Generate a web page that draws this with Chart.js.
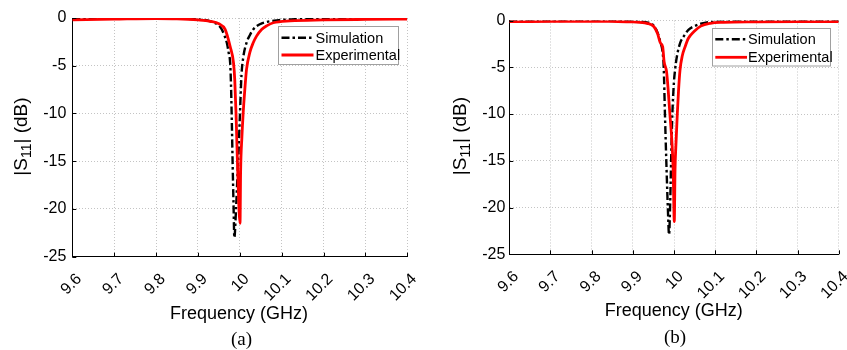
<!DOCTYPE html>
<html><head><meta charset="utf-8">
<script src="https://cdn.jsdelivr.net/npm/chart.js@4.4.1/dist/chart.umd.min.js"></script>
<style>
html,body{margin:0;padding:0;background:#fff;}
#wrap{position:relative;width:847px;height:350px;overflow:hidden;background:#fff;}
.c{position:absolute;top:0;height:350px;}
canvas{display:block;}
</style></head><body>
<div id="wrap">
<div class="c" style="left:0;width:423px"><canvas id="ca" width="423" height="350" style="width:423px;height:350px"></canvas></div>
<div class="c" style="left:423px;width:424px"><canvas id="cb" width="424" height="350" style="width:424px;height:350px"></canvas></div>
</div>
<script>
// ---------- data ----------
const xTickValues = [9.6, 9.7, 9.8, 9.9, 10.0, 10.1, 10.2, 10.3, 10.4];
const xTickLabels = ['9.6', '9.7', '9.8', '9.9', '10', '10.1', '10.2', '10.3', '10.4'];
const yTickValues = [-25, -20, -15, -10, -5, 0];
const yTickLabels = ['-25', '-20', '-15', '-10', '-5', '0'];
const seriesNames = ['Simulation', 'Experimental'];
const panelLabels = ['(a)', '(b)'];
const xAxisTitle = 'Frequency (GHz)';

// panel (a)
const simFreqA = [9.6, 9.7, 9.8, 9.85, 9.9, 9.93, 9.95, 9.957, 9.963, 9.969, 9.974, 9.977, 9.979, 9.981, 9.983, 9.985, 9.987, 9.991, 9.994, 9.997, 10.0, 10.004, 10.008, 10.016, 10.024, 10.032, 10.048, 10.065, 10.088, 10.15, 10.25, 10.4];
const simA = [-0.05, -0.03, -0.02, -0.05, -0.15, -0.35, -0.8, -1.2, -1.8, -2.6, -3.8, -4.7, -7.0, -11.0, -15.5, -19.5, -23.0, -20.0, -17.0, -14.0, -10.5, -6.0, -4.2, -2.6, -1.8, -1.2, -0.65, -0.4, -0.25, -0.1, -0.06, -0.04];
const expFreqA = [9.6, 9.7, 9.8, 9.85, 9.9, 9.93, 9.95, 9.965, 9.977, 9.985, 9.988, 9.991, 9.995, 10.0005, 10.002, 10.005, 10.008, 10.012, 10.016, 10.024, 10.032, 10.04, 10.052, 10.065, 10.08, 10.12, 10.2, 10.3, 10.4];
const expA = [-0.2, -0.12, -0.05, -0.08, -0.2, -0.35, -0.6, -1.2, -3.0, -4.7, -6.5, -10.0, -16.0, -21.5, -16.0, -12.5, -10.0, -7.5, -5.4, -3.6, -2.6, -1.9, -1.2, -0.8, -0.5, -0.3, -0.2, -0.15, -0.12];

// panel (b)
const simFreqB = [9.6, 9.7, 9.8, 9.85, 9.9, 9.934, 9.95, 9.96, 9.967, 9.972, 9.975, 9.978, 9.982, 9.985, 9.988, 9.991, 9.993, 9.996, 10.0, 10.0025, 10.007, 10.015, 10.0235, 10.035, 10.048, 10.065, 10.088, 10.15, 10.25, 10.4];
const simB = [-0.05, -0.05, -0.03, -0.05, -0.1, -0.2, -0.5, -1.3, -2.3, -3.3, -5.0, -10.0, -16.0, -20.0, -22.9, -19.0, -15.0, -10.0, -6.5, -5.3, -3.85, -2.4, -1.7, -1.0, -0.64, -0.35, -0.15, -0.08, -0.05, -0.05];
const expFreqB = [9.6, 9.7, 9.8, 9.85, 9.9, 9.934, 9.951, 9.96, 9.967, 9.9725, 9.976, 9.982, 9.986, 9.99, 9.995, 9.998, 10.0007, 10.0025, 10.005, 10.008, 10.011, 10.0146, 10.02, 10.027, 10.035, 10.048, 10.065, 10.088, 10.12, 10.2, 10.3, 10.4];
const expB = [-0.12, -0.1, -0.08, -0.1, -0.15, -0.3, -0.64, -1.4, -2.4, -2.8, -4.4, -5.5, -7.5, -10.0, -13.0, -16.0, -21.5, -16.0, -13.0, -10.0, -7.5, -5.3, -3.8, -2.8, -1.9, -1.2, -0.6, -0.3, -0.2, -0.15, -0.12, -0.12];

// ---------- helpers ----------
const SANS = "'Liberation Sans', Arial, Helvetica, sans-serif";
const SERIF = "'Liberation Serif', 'Times New Roman', serif";
const toPts = (xs, ys) => xs.map((x, i) => ({x: x, y: ys[i]}));

const decorPlugin = {
  id: 'decor',
  afterDraw(chart, args, o) {
    const ctx = chart.ctx;
    const ca = chart.chartArea;
    const xs = chart.scales.x, ys = chart.scales.y;
    ctx.save();
    // inward tick marks
    ctx.strokeStyle = '#000'; ctx.lineWidth = 1;
    xTickValues.forEach(v => {
      const px = Math.round(xs.getPixelForValue(v)) + 0.5;
      ctx.beginPath(); ctx.moveTo(px, ca.bottom); ctx.lineTo(px, ca.bottom - 4); ctx.stroke();
    });
    yTickValues.forEach(v => {
      const py = Math.round(ys.getPixelForValue(v)) + 0.5;
      ctx.beginPath(); ctx.moveTo(ca.left, py); ctx.lineTo(ca.left + 4, py); ctx.stroke();
    });
    // x title
    ctx.fillStyle = '#000';
    ctx.font = '18px ' + SANS;
    ctx.textAlign = 'center'; ctx.textBaseline = 'middle';
    ctx.fillText(xAxisTitle, o.xTitle[0], o.xTitle[1]);
    // panel label
    ctx.font = '19px ' + SERIF;
    ctx.fillText(o.panel, o.panelPos[0], o.panelPos[1]);
    // y title with subscript
    ctx.save();
    ctx.translate(o.yTitle[0], o.yTitle[1]);
    ctx.rotate(-Math.PI / 2);
    ctx.textAlign = 'left'; ctx.textBaseline = 'middle';
    const big = '19px ' + SANS, small = '14px ' + SANS;
    ctx.font = big; const w1 = ctx.measureText('|S').width; const w3 = ctx.measureText('| (dB)').width;
    ctx.font = small; const w2 = ctx.measureText('11').width;
    let x0 = -(w1 + w2 + w3) / 2;
    ctx.font = big; ctx.fillText('|S', x0, 0);
    ctx.font = small; ctx.fillText('11', x0 + w1, 5);
    ctx.font = big; ctx.fillText('| (dB)', x0 + w1 + w2, 0);
    ctx.restore();
    // legend
    const L = o.legend;
    ctx.fillStyle = '#fff';
    ctx.fillRect(L.x, L.y, L.w, L.h);
    ctx.strokeStyle = '#a0a0a0'; ctx.lineWidth = 1;
    ctx.strokeRect(L.x + 0.5, L.y + 0.5, L.w, L.h);
    chart.data.datasets.forEach((ds, i) => {
      const ry = L.rows[i];
      ctx.save();
      ctx.strokeStyle = ds.borderColor; ctx.lineWidth = ds.borderWidth;
      ctx.setLineDash(ds.borderDash || []);
      ctx.beginPath(); ctx.moveTo(L.sx0, ry); ctx.lineTo(L.sx1, ry); ctx.stroke();
      ctx.restore();
      ctx.fillStyle = '#000'; ctx.font = '14.5px ' + SANS;
      ctx.textAlign = 'left'; ctx.textBaseline = 'middle';
      ctx.fillText(ds.label, L.tx, ry + 1);
    });
    ctx.restore();
  }
};

function makeChart(id, simX, simY, expX, expY, geo) {
  return new Chart(document.getElementById(id), {
    type: 'line',
    data: {
      datasets: [
        {label: seriesNames[0], data: toPts(simX, simY), borderColor: '#000000', borderWidth: 2.4,
         borderDash: [8, 3, 2.5, 3], pointRadius: 0, cubicInterpolationMode: 'monotone', order: 1},
        {label: seriesNames[1], data: toPts(expX, expY), borderColor: '#ff0000', borderWidth: 2.8,
         pointRadius: 0, cubicInterpolationMode: 'monotone', order: 0}
      ]
    },
    options: {
      responsive: false, animation: false, devicePixelRatio: 1,
      layout: {padding: {top: geo.top, right: geo.right, left: 0, bottom: 0}},
      plugins: {legend: {display: false}, tooltip: {enabled: false},
        decor: geo.decor},
      scales: {
        x: {type: 'linear', min: 9.6, max: 10.4,
          afterBuildTicks: s => { s.ticks = xTickValues.map(v => ({value: v})); },
          afterFit: s => { s.height = geo.xh; s.paddingLeft = 0; s.paddingRight = 0; },
          ticks: {callback: (v, i) => xTickLabels[i], minRotation: 45, maxRotation: 45,
            color: '#000', font: {family: SANS, size: 16}, padding: geo.xpad, labelOffset: geo.xoff, autoSkip: false},
          grid: {color: '#c4c4c4', lineWidth: 1, drawTicks: false},
          border: {display: true, color: '#000', width: 1, dash: [1, 2]}
        },
        y: {type: 'linear', min: -25, max: 0,
          afterBuildTicks: s => { s.ticks = yTickValues.map(v => ({value: v})); },
          afterFit: s => { s.width = geo.yw; },
          ticks: {callback: (v, i) => yTickLabels[i], color: '#000', font: {family: SANS, size: 16}, padding: geo.ypad},
          grid: {color: '#c4c4c4', lineWidth: 1, drawTicks: false},
          border: {display: true, color: '#000', width: 1, dash: [1, 2]}
        }
      }
    },
    plugins: [decorPlugin]
  });
}

makeChart('ca', simFreqA, simA, expFreqA, expA, {
  top: 18, right: 15.7, xh: 93.3, yw: 72.3, xpad: 13, xoff: 7, ypad: 6,
  decor: {xTitle: [239, 314], panel: panelLabels[0], panelPos: [241.5, 340], yTitle: [22, 136.5],
    legend: {x: 278, y: 26, w: 120, h: 38, rows: [37.7, 55], sx0: 281.5, sx1: 313.5, tx: 315.5}}
});
makeChart('cb', simFreqB, simB, expFreqB, expB, {
  top: 20.5, right: 8.3, xh: 95.7, yw: 86.3, xpad: 13, xoff: 7, ypad: 4,
  decor: {xTitle: [250.7, 311.5], panel: panelLabels[1], panelPos: [252, 338], yTitle: [38, 136],
    legend: {x: 289, y: 28, w: 118, h: 37.5, rows: [39.3, 57.3], sx0: 292.3, sx1: 324, tx: 325}}
});
</script>
</body></html>
